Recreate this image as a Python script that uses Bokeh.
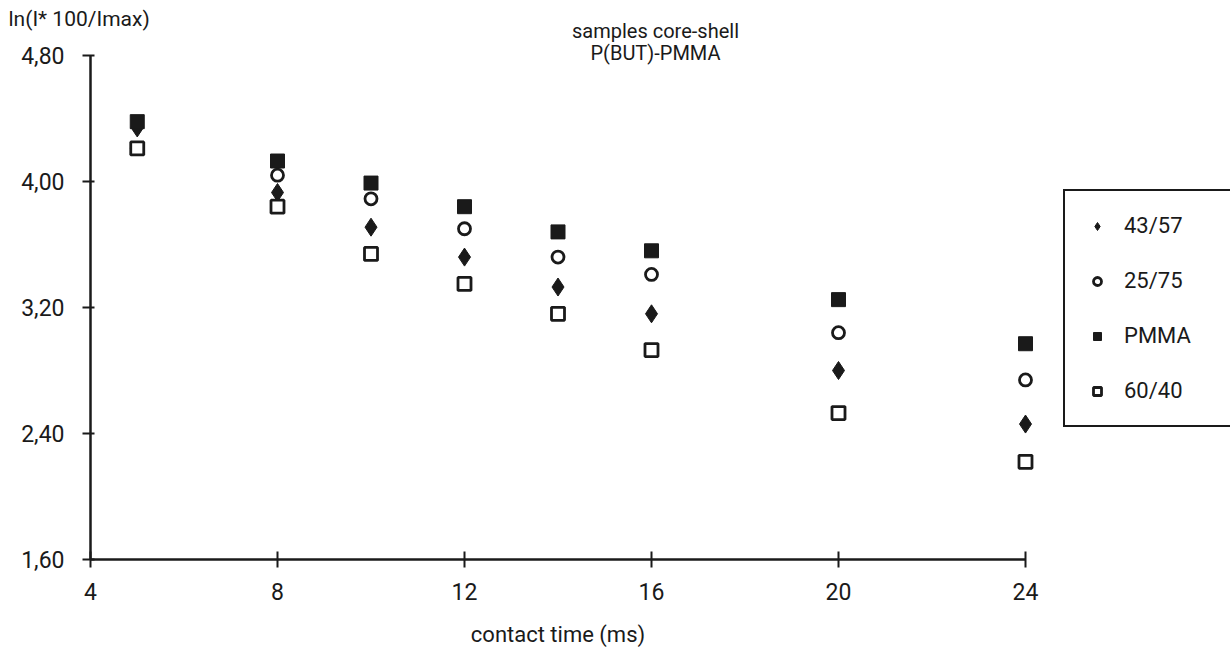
from bokeh.plotting import figure
from bokeh.models import (FixedTicker, CustomJSTickFormatter, Label, Legend,
                          LegendItem, Range1d, ColumnDataSource)
from bokeh.embed import file_html
from bokeh.resources import INLINE

# ---- data ----
contact_time = [5, 8, 10, 12, 14, 16, 20, 24]
s_43_57 = [4.34, 3.93, 3.71, 3.52, 3.33, 3.16, 2.80, 2.46]
s_25_75 = [4.21, 4.04, 3.89, 3.70, 3.52, 3.41, 3.04, 2.74]
s_pmma = [4.38, 4.13, 3.99, 3.84, 3.68, 3.56, 3.25, 2.97]
s_60_40 = [4.21, 3.84, 3.54, 3.35, 3.16, 2.93, 2.53, 2.22]
x_ticks = [4, 8, 12, 16, 20, 24]
y_ticks = [1.6, 2.4, 3.2, 4.0, 4.8]
series_names = ["43/57", "25/75", "PMMA", "60/40"]
title_lines = ["samples core-shell", "P(BUT)-PMMA"]
y_label = "ln(I* 100/Imax)"
x_label = "contact time (ms)"

FONT = "Roboto"
INK = "#1a1a1a"

W, H = 1230, 647
# pixel layout of the axes box inside the page
AX_L, AX_R, AX_T, AX_B = 90, 1025, 55, 559
x0, x1 = x_ticks[0], x_ticks[-1]
y0, y1 = y_ticks[0], y_ticks[-1]
sx = (AX_R - AX_L) / (x1 - x0)
sy = (AX_B - AX_T) / (y1 - y0)
xr = Range1d(x0 - AX_L / sx, x0 + (W - AX_L) / sx)
yr = Range1d(y0 - (H - AX_B) / sy, y0 + AX_B / sy)

p = figure(width=W, height=H, x_range=xr, y_range=yr,
           output_backend="svg", toolbar_location=None,
           min_border=0, min_border_left=0, min_border_right=0,
           min_border_top=0, min_border_bottom=0)
p.outline_line_color = None
p.grid.visible = False
p.background_fill_color = "white"
p.border_fill_color = "white"

for ax in (p.xaxis, p.yaxis):
    ax.axis_line_width = 2.5
    ax.axis_line_color = INK
    ax.major_tick_line_width = 2
    ax.major_tick_line_color = INK
    ax.minor_tick_line_color = None
    ax.major_label_text_font = FONT
    ax.major_label_text_font_size = "23px"
    ax.major_label_text_color = INK

p.xaxis.fixed_location = y0
p.xaxis.bounds = (x0, x1)
p.xaxis.ticker = FixedTicker(ticks=x_ticks)
p.xaxis.major_tick_in = 8
p.xaxis.major_tick_out = 8
p.xaxis.major_label_standoff = 15
p.xaxis.axis_label = x_label
p.xaxis.axis_label_text_font = FONT
p.xaxis.axis_label_text_font_style = "normal"
p.xaxis.axis_label_text_font_size = "22px"
p.xaxis.axis_label_text_color = INK
p.xaxis.axis_label_standoff = 19

p.yaxis.fixed_location = x0
p.yaxis.bounds = (y0, y1)
p.yaxis.ticker = FixedTicker(ticks=y_ticks)
p.yaxis.major_tick_in = 4
p.yaxis.major_tick_out = 8
p.yaxis.major_label_standoff = 18
p.yaxis.formatter = CustomJSTickFormatter(code="return tick.toFixed(2).replace('.', ',');")

src = ColumnDataSource(dict(x=contact_time, a=s_43_57, b=s_25_75, c=s_pmma, d=s_60_40))

r1 = p.scatter("x", "a", source=src, marker="diamond", size=18, fill_color=INK,
               line_color=INK, line_width=1)
r2 = p.scatter("x", "b", source=src, marker="circle", size=12, fill_color="white",
               line_color=INK, line_width=2.8)
r3 = p.scatter("x", "c", source=src, marker="square", size=14, fill_color=INK,
               line_color=INK, line_width=1)
r4 = p.scatter("x", "d", source=src, marker="square", size=13, fill_color="white",
               line_color=INK, line_width=2.8)

legend = Legend(items=[LegendItem(label=n, renderers=[r]) for n, r in
                       zip(series_names, [r1, r2, r3, r4])],
                location=(1063, 647 - 427))
legend.border_line_color = INK
legend.border_line_alpha = 1
legend.border_line_width = 2.5
legend.background_fill_color = "white"
legend.background_fill_alpha = 1
legend.label_text_font = FONT
legend.label_text_font_size = "22px"
legend.label_text_color = INK
legend.glyph_width = 20
legend.glyph_height = 20
legend.label_height = 20
legend.label_standoff = 17
legend.spacing = 30
legend.padding = 22
legend.label_width = 150
legend.margin = 0
p.add_layout(legend, "center")

# titles and y axis label
xc = x0 + (655 - AX_L) / sx
p.add_layout(Label(x=xc, y=y1, y_offset=25, text=title_lines[0], text_align="center",
                   text_baseline="middle", text_font=FONT, text_font_size="20px",
                   text_color=INK))
p.add_layout(Label(x=xc, y=y1, y_offset=3, text=title_lines[1], text_align="center",
                   text_baseline="middle", text_font=FONT, text_font_size="20px",
                   text_color=INK))
p.add_layout(Label(x=x0, y=y1, x_offset=-82, y_offset=37, text=y_label, text_align="left",
                   text_baseline="middle", text_font=FONT, text_font_size="21px",
                   text_color=INK))

open("out.html", "w").write(file_html(p, INLINE))
